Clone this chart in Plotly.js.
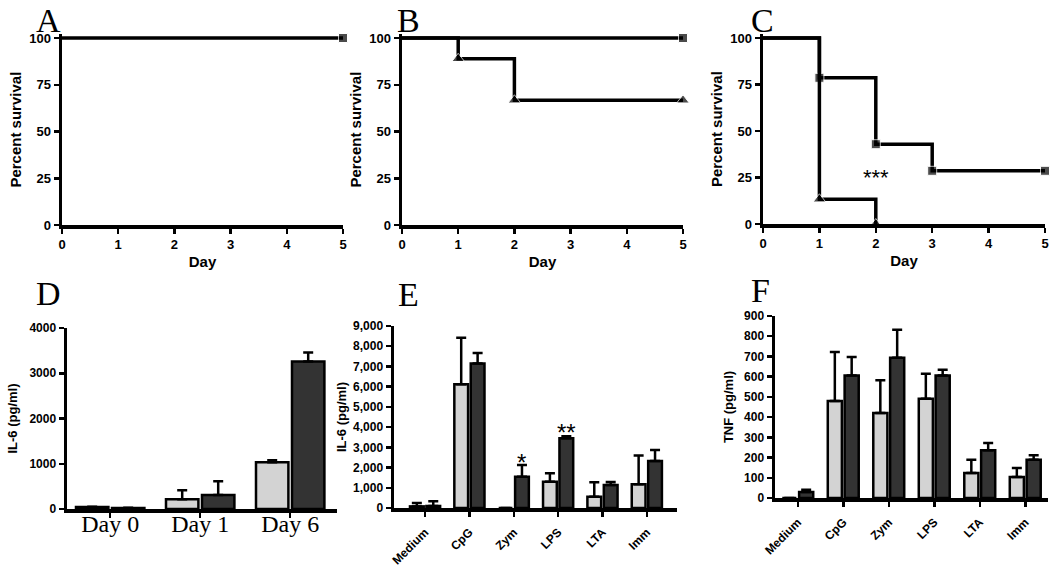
<!DOCTYPE html>
<html><head><meta charset="utf-8">
<script src="https://cdn.plot.ly/plotly-3.0.1.min.js"></script>
<style>html,body{margin:0;padding:0;background:#fff}#chart{width:1050px;height:567px}</style>
</head><body><div id="chart"></div>
<script>
// ---- Survival data (Day, Percent survival) ----
const aSqDay = [0, 5];          const aSqPct = [100, 100];
const bSqDay = [0, 5];          const bSqPct = [100, 100];
const bTriDay = [0, 1, 2, 5];   const bTriPct = [100, 88.9, 66.7, 66.7];
const cSqDay = [0, 1, 2, 3, 5]; const cSqPct = [100, 78.6, 42.9, 28.6, 28.6];
const cTriDay = [0, 1, 2];      const cTriPct = [100, 13.3, 0];
const survTicks = [0, 25, 50, 75, 100];
const dayTicks = [0, 1, 2, 3, 4, 5];

// ---- Panel D: IL-6 over days ----
const dCats = ["Day 0", "Day 1", "Day 6"];
const dLight = [44, 214, 1035];  const dLightErr = [5, 200, 45];
const dDark  = [22, 310, 3260];  const dDarkErr  = [3, 305, 200];

// ---- Panel E: IL-6 by stimulus ----
const stimCats = ["Medium", "CpG", "Zym", "LPS", "LTA", "Imm"];
const eLight = [80, 6120, 0, 1300, 560, 1170];  const eLightErr = [170, 2300, 0, 420, 710, 1420];
const eDark  = [100, 7140, 1550, 3450, 1140, 2330]; const eDarkErr = [230, 530, 580, 100, 140, 540];

// ---- Panel F: TNF by stimulus ----
const fLight = [0, 480, 420, 491, 124, 104];  const fLightErr = [0, 242, 162, 124, 65, 44];
const fDark  = [30, 606, 694, 606, 236, 189]; const fDarkErr = [11, 91, 138, 28, 36, 22];

const W = 1050, H = 567;
const LIGHT = '#d3d3d3', DARK = '#333333';
const SANS = 'Liberation Sans, Arial, sans-serif';
const SERIF = 'Liberation Serif, Times New Roman, serif';

function dx(a, b) { return [a / W, b / W]; }
function dy(a, b) { return [1 - b / H, 1 - a / H]; }

function axisBase(extra) {
  return Object.assign({
    showgrid: false, zeroline: false, showline: true, linecolor: '#000', linewidth: 3.5,
    ticks: 'outside', ticklen: 5, tickwidth: 2.5, tickcolor: '#000',
    tickfont: {family: SANS, size: 13, color: '#000', weight: 'bold'},
    automargin: false, fixedrange: true
  }, extra);
}

const traces = [];
function surv(xs, ys, sym, ax, size) {
  traces.push({
    type: 'scatter', mode: 'lines+markers', x: xs, y: ys, xaxis: 'x' + ax, yaxis: 'y' + ax,
    line: {shape: 'hv', color: '#000', width: 3.5},
    marker: {symbol: sym, color: '#000', size: xs.map((_, i) => i === 0 ? 0 : size)},
    cliponaxis: false, showlegend: false, hoverinfo: 'skip'
  });
}
surv(aSqDay, aSqPct, 'square', '', 9);
surv(bSqDay, bSqPct, 'square', '2', 9);
surv(bTriDay, bTriPct, 'triangle-up', '2', 11);
surv(cSqDay, cSqPct, 'square', '3', 9);
surv(cTriDay, cTriPct, 'triangle-up', '3', 11);

function bars(cats, vals, errs, color, ax, width, offset) {
  traces.push({
    type: 'bar', x: cats, y: vals, xaxis: 'x' + ax, yaxis: 'y' + ax,
    width: width, offset: offset,
    marker: {color: color, line: {color: '#000', width: 2.5}},
    error_y: {type: 'data', array: errs, arrayminus: errs.map(() => 0), symmetric: false,
              color: '#000', thickness: 2.5, width: 5, visible: true},
    showlegend: false, hoverinfo: 'skip', cliponaxis: false
  });
}
bars(dCats, dLight, dLightErr, LIGHT, '4', 0.36, -0.38);
bars(dCats, dDark, dDarkErr, DARK, '4', 0.36, 0.02);
bars(stimCats, eLight, eLightErr, LIGHT, '5', 0.31, -0.34);
bars(stimCats, eDark, eDarkErr, DARK, '5', 0.31, 0.03);
bars(stimCats, fLight, fLightErr, LIGHT, '6', 0.31, -0.34);
bars(stimCats, fDark, fDarkErr, DARK, '6', 0.31, 0.03);

// survival y range extended slightly above 100 so the 100% line is not clipped
const S_TOP = 102;
function survDom(top100, zero) {
  const topPx = zero - (zero - top100) * S_TOP / 100;
  return dy(topPx, zero);
}
const survY = (dom) => axisBase({domain: dom, range: [0, S_TOP], tickvals: survTicks,
  title: {text: 'Percent survival', font: {family: SANS, size: 15, weight: 'bold', color: '#000'}, standoff: 5}});
const survX = (dom, ya) => axisBase({domain: dom, range: [0, 5], tickvals: dayTicks, anchor: ya,
  title: {text: 'Day', font: {family: SANS, size: 15, weight: 'bold', color: '#000'}, standoff: 6}});

const catTitle = (t, s) => ({text: t, font: {family: SANS, size: 13, weight: 'bold', color: '#000'}, standoff: s});

const layout = {
  width: W, height: H, margin: {l: 0, r: 0, t: 0, b: 0},
  paper_bgcolor: '#fff', plot_bgcolor: 'rgba(0,0,0,0)', barmode: 'group',
  xaxis: survX(dx(62, 343), 'y'),   yaxis: Object.assign(survY(survDom(38, 225)), {anchor: 'x'}),
  xaxis2: survX(dx(402, 683), 'y2'), yaxis2: Object.assign(survY(survDom(38, 225)), {anchor: 'x2'}),
  xaxis3: survX(dx(763, 1045), 'y3'), yaxis3: Object.assign(survY(survDom(38, 224)), {anchor: 'x3'}),
  xaxis4: axisBase({domain: dx(67, 337), anchor: 'y4', type: 'category', range: [-0.48, 2.52],
    ticklabelstandoff: -14, tickfont: {family: SERIF, size: 24, color: '#000'}}),
  yaxis4: axisBase({domain: dy(328, 509), anchor: 'x4', range: [0, 4000], tickvals: [0, 1000, 2000, 3000, 4000],
    tickformat: 'd', tickfont: {family: SANS, size: 12, color: '#000', weight: 'bold'},
    title: catTitle('IL-6 (pg/ml)', 10)}),
  xaxis5: axisBase({domain: dx(394, 677), anchor: 'y5', type: 'category', range: [-0.7, 5.68], tickangle: -45,
    ticklabelstandoff: 4, tickfont: {family: SANS, size: 12, color: '#000', weight: 'bold'}}),
  yaxis5: axisBase({domain: dy(326, 508), anchor: 'x5', range: [0, 9000], dtick: 1000, tickformat: ',',
    tickfont: {family: SANS, size: 12, color: '#000', weight: 'bold'},
    title: catTitle('IL-6 (pg/ml)', 4)}),
  xaxis6: axisBase({domain: dx(775, 1048), anchor: 'y6', type: 'category', range: [-0.5, 5.5], tickangle: -45,
    ticklabelstandoff: 4, tickfont: {family: SANS, size: 12, color: '#000', weight: 'bold'}}),
  yaxis6: axisBase({domain: dy(316, 498), anchor: 'x6', range: [0, 900], dtick: 100,
    tickfont: {family: SANS, size: 12, color: '#000', weight: 'bold'},
    title: catTitle('TNF (pg/ml)', 8)}),
  annotations: [
    {text: 'A', x: 48 / W, y: 1, yanchor: 'top'},
    {text: 'B', x: 408 / W, y: 1, yanchor: 'top'},
    {text: 'C', x: 762 / W, y: 1, yanchor: 'top'},
    {text: 'D', x: 48 / W, y: 1 - 293 / H, yanchor: 'middle'},
    {text: 'E', x: 408 / W, y: 1 - 294 / H, yanchor: 'middle'},
    {text: 'F', x: 760 / W, y: 1 - 290 / H, yanchor: 'middle'}
  ].map(a => Object.assign(a, {xref: 'paper', yref: 'paper', showarrow: false, xanchor: 'center',
    font: {family: SERIF, size: 34, color: '#000'}})).concat([
    {text: '***', x: 2.0, y: 25, xref: 'x3', yref: 'y3', showarrow: false,
     font: {family: SANS, size: 22, color: '#000'}},
    {text: '*', x: 2.185, y: 2250, xref: 'x5', yref: 'y5', showarrow: false, yanchor: 'middle',
     font: {family: SANS, size: 24, color: '#000'}},
    {text: '**', x: 3.185, y: 3750, xref: 'x5', yref: 'y5', showarrow: false, yanchor: 'middle',
     font: {family: SANS, size: 24, color: '#000'}}
  ])
};

Plotly.newPlot('chart', traces, layout, {staticPlot: true, displayModeBar: false});
</script></body></html>
